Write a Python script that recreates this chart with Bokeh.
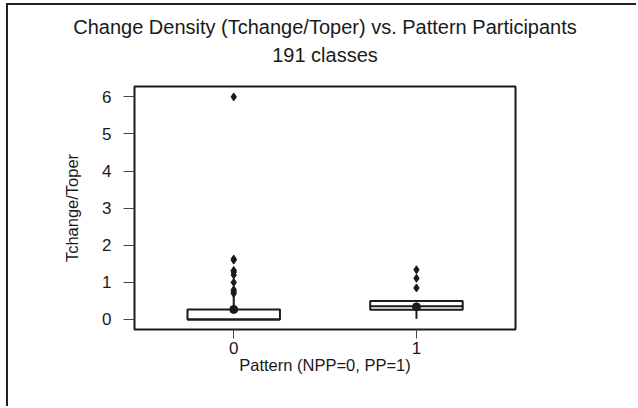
from bokeh.plotting import figure
from bokeh.models import Title, FixedTicker, Range1d
from bokeh.embed import file_html
from bokeh.resources import INLINE

# Data
groups = [0, 1]
q1 = [0.0, 0.26]
median = [0.0, 0.36]
q3 = [0.27, 0.50]
whisk_low = [0.0, 0.02]
whisk_high = [0.65, 0.50]
out_x = [0, 0, 0, 0, 0, 0, 0, 0, 0, 0, 1, 1, 1]
out_y = [0.70, 0.75, 0.80, 1.00, 1.20, 1.28, 1.32, 1.60, 1.63, 6.00, 0.85, 1.11, 1.34]
dot_x = [0, 1]
dot_y = [0.27, 0.34]
x_ticks = [0, 1]
y_ticks = [0, 1, 2, 3, 4, 5, 6]

FONT = "Liberation Sans"
INK = "#1a1a1a"
HALF = 0.253

p = figure(width=630, height=403, output_backend="svg", toolbar_location=None,
           x_range=Range1d(-0.543, 1.542), y_range=Range1d(-0.27, 6.28),
           min_border_left=126, min_border_right=123, min_border_top=81, min_border_bottom=79)
p.margin = (3, 0, 0, 6)
p.styles = {"border-top": "2px solid #222", "border-left": "2px solid #222"}
p.background_fill_color = "white"
p.border_fill_color = "white"
p.grid.visible = False
p.outline_line_color = INK
p.outline_line_width = 2

t2 = Title(text="191 classes", align="center", text_font=FONT, text_font_size="20px",
           text_font_style="normal", text_color=INK, standoff=42)
t1 = Title(text="Change Density (Tchange/Toper) vs. Pattern Participants", align="center",
           text_font=FONT, text_font_size="20px", text_font_style="normal", text_color=INK,
           standoff=-34)
p.add_layout(t2, "above")
p.add_layout(t1, "above")

# whiskers
p.segment(x0=groups, y0=q3, x1=groups, y1=whisk_high, line_color=INK, line_width=2)
p.segment(x0=groups, y0=whisk_low, x1=groups, y1=q1, line_color=INK, line_width=2)
# boxes
p.quad(left=[g - HALF for g in groups], right=[g + HALF for g in groups], bottom=q1, top=q3,
       fill_color="white", line_color=INK, line_width=2)
# medians
p.segment(x0=[g - HALF for g in groups], y0=median, x1=[g + HALF for g in groups], y1=median,
          line_color=INK, line_width=2)
# outliers
p.scatter(out_x, out_y, marker="diamond", size=8, fill_color=INK, line_color=INK)
p.scatter(dot_x, dot_y, marker="circle", size=8, fill_color=INK, line_color=INK)

for ax in (p.xaxis[0], p.yaxis[0]):
    ax.axis_line_color = None
    ax.minor_tick_line_color = None
    ax.major_tick_in = 0
    ax.major_tick_line_color = "#444444"
    ax.major_tick_line_width = 1
    ax.major_label_text_font = FONT
    ax.major_label_text_font_size = "17px"
    ax.major_label_text_color = INK
    ax.axis_label_text_font = FONT
    ax.axis_label_text_font_size = "16.5px"
    ax.axis_label_text_font_style = "normal"
    ax.axis_label_text_color = INK

p.xaxis.ticker = FixedTicker(ticks=x_ticks)
p.yaxis.ticker = FixedTicker(ticks=y_ticks)
p.xaxis.axis_label = "Pattern (NPP=0, PP=1)"
p.yaxis.axis_label = "Tchange/Toper"
p.xaxis.major_tick_out = 9
p.yaxis.major_tick_out = 11
p.xaxis.major_label_standoff = 3
p.yaxis.major_label_standoff = 12
p.xaxis.axis_label_standoff = -1
p.yaxis.axis_label_standoff = 18

open("out.html", "w").write(file_html(p, INLINE))
